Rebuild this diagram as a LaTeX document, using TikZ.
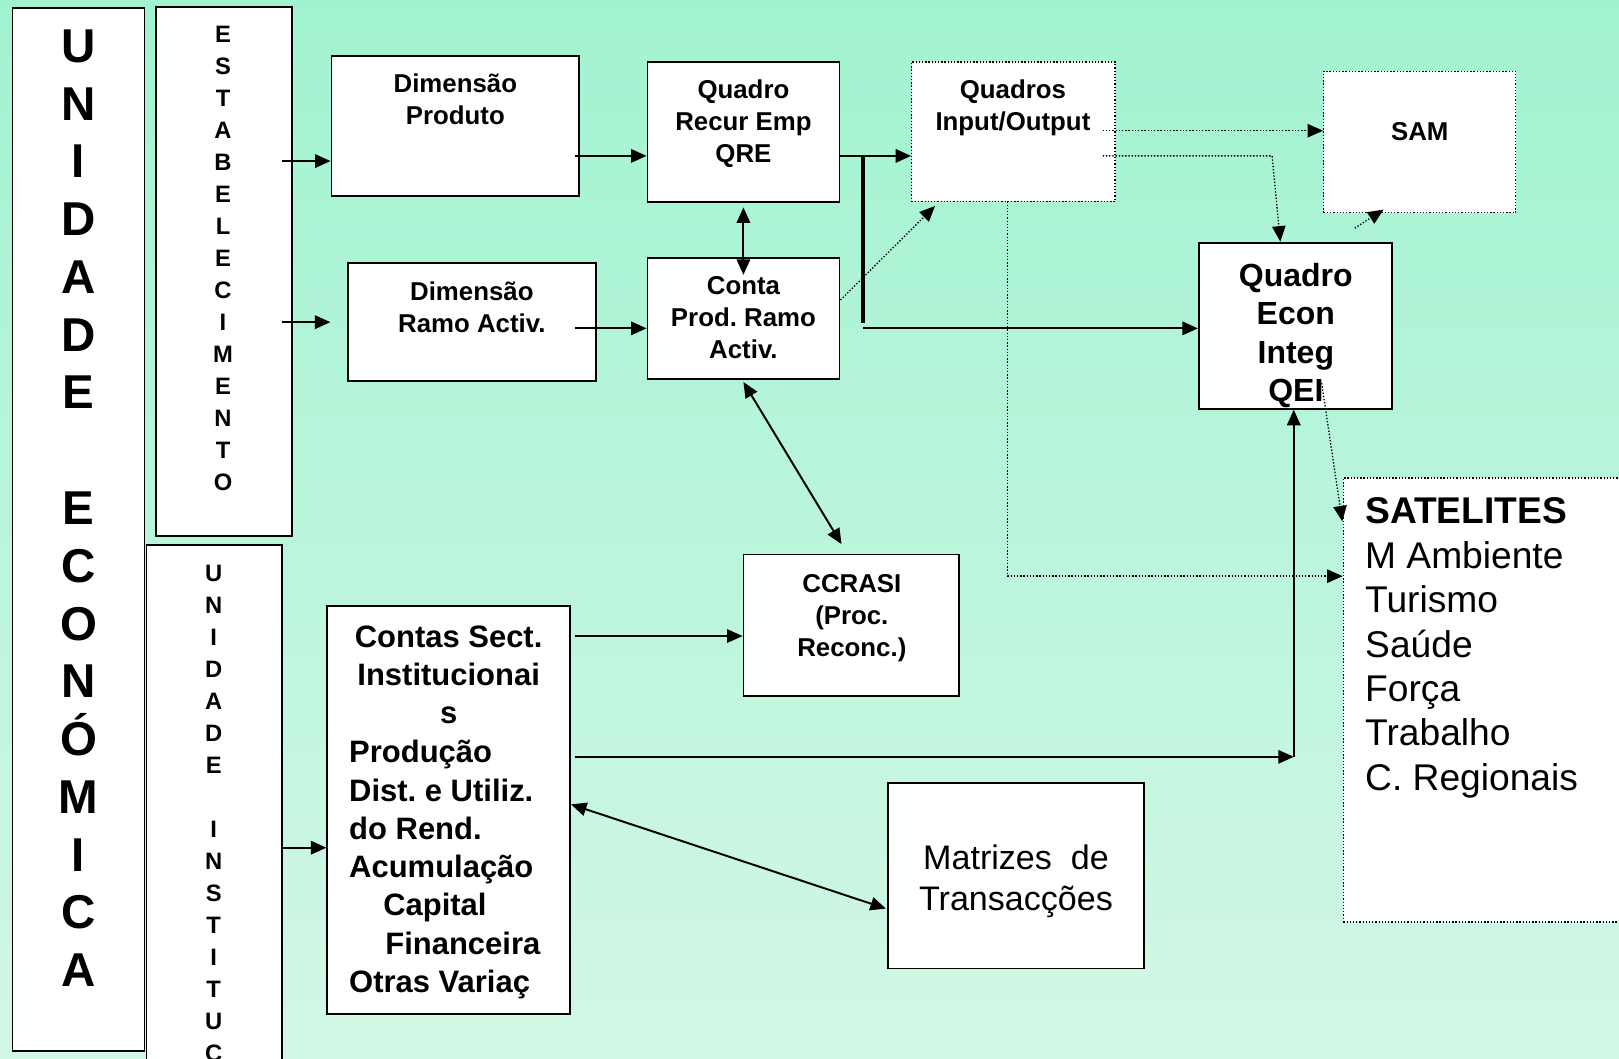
\documentclass[tikz,border=0pt]{standalone}
\usepackage{fontspec}
\setmainfont{Liberation Sans}
\usetikzlibrary{arrows.meta,calc}
\newcommand\fsz[2]{\fontsize{#1}{#2}\selectfont}
\definecolor{bgtop}{RGB}{161,243,208}
\definecolor{bgbot}{RGB}{211,247,230}
\frenchspacing
\begin{document}
\begin{tikzpicture}[x=1pt,y=-1pt,
 box/.style={draw, fill=white, line width=1.7pt, inner sep=0pt},
 dbox/.style={draw, fill=white, line width=1.3pt, dash pattern=on 1.3pt off 1.8pt, inner sep=0pt},
 txt/.style={inner sep=0pt, align=center, anchor=north, font=\bfseries\fsz{25}{31}},
 col/.style={inner sep=0pt, align=center, anchor=north},
 tip/.style={-{Triangle[length=15pt,width=13pt]}},
 arr/.style={line width=1.9pt, tip},
 darr/.style={line width=1.9pt, {Triangle[length=15pt,width=13pt]}-{Triangle[length=15pt,width=13pt]}},
 dot/.style={line width=1.3pt, dash pattern=on 1.3pt off 1.8pt},
 dotarr/.style={dot, tip},
]
\useasboundingbox (0,0) rectangle (1568,1025);
\clip (0,0) rectangle (1568,1025);
\fill[top color=bgtop,bottom color=bgbot] (0,0) rectangle (1568,1025);

% left columns
\node[box, minimum width=128pt, minimum height=1010pt] (ue) at (76,513) {};
\node[box, minimum width=132pt, minimum height=512pt] (est) at (217,263) {};
\node[box, minimum width=131pt, minimum height=512pt] (ui) at (207.5,784) {};
\node[col, font=\bfseries\fsz{46}{55.95}] (uet) at (76,28.5)
  {U\\N\\I\\D\\A\\D\\E\\[55.95pt]E\\C\\O\\N\\Ó\\M\\I\\C\\A};
\node[col, font=\bfseries\fsz{23}{31}] (estt) at (216,24.8)
  {E\\S\\T\\A\\B\\E\\L\\E\\C\\I\\M\\E\\N\\T\\O};
\node[col, font=\bfseries\fsz{23}{31}] (uit) at (207,546.8)
  {U\\N\\I\\D\\A\\D\\E\\[31pt]I\\N\\S\\T\\I\\T\\U\\C};

% boxes
\node[box, minimum width=240pt, minimum height=136pt] (dp) at (441,122) {};
\node[box, minimum width=240pt, minimum height=114pt] (dr) at (457,312) {};
\node[box, minimum width=186pt, minimum height=136pt] (qre) at (720,128) {};
\node[box, minimum width=186pt, minimum height=117pt] (cpr) at (720,308.5) {};
\node[dbox, minimum width=197pt, minimum height=135pt] (io) at (981.5,127.5) {};
\node[dbox, minimum width=186pt, minimum height=137pt] (sam) at (1375,137.5) {};
\node[box, minimum width=187pt, minimum height=161pt] (qei) at (1254.5,315.5) {};
\node[dbox, minimum width=279pt, minimum height=430pt] (sat) at (1440.5,678) {};
\node[box, minimum width=209pt, minimum height=137pt] (ccr) at (824.5,605.5) {};
\node[box, minimum width=235pt, minimum height=395pt] (cst) at (434.5,784.5) {};
\node[box, minimum width=248pt, minimum height=180pt] (mat) at (984,848) {};

% texts
\node[txt] (dpt) at (441,71) {Dimensão\\Produto};
\node[txt] (drt) at (457,273) {Dimensão\\Ramo Activ.};
\node[txt] (qret) at (720,77) {Quadro\\Recur Emp\\QRE};
\node[txt] (cprt) at (720,268) {Conta\\Prod. Ramo\\Activ.};
\node[txt] (iot) at (981,77) {Quadros\\Input/Output};
\node[txt] (samt) at (1375,118) {SAM};
\node[txt, font=\bfseries\fsz{31}{37}] (qeit) at (1255,255) {Quadro\\Econ\\Integ\\QEI};
\node[txt] (ccrt) at (825,556) {CCRASI\\(Proc.\\Reconc.)};
\node[txt, font=\fsz{33}{40}] (matt) at (984,818) {Matrizes~~de\\Transacções};
\node[txt, font=\bfseries\fsz{30}{37}] (csta) at (434.5,606) {Contas Sect.\\Institucionai\\s};
\node[txt, font=\bfseries\fsz{30}{37}, anchor=north west, align=left] (cstb) at (338,717)
  {Produção\\Dist. e Utiliz.\\do Rend.\\Acumulação\\\hspace*{33pt}Capital\\\hspace*{35pt}Financeira\\Otras Variaç};
\node[inner sep=0pt, anchor=north west, align=left, font=\fsz{36}{43}] (satt) at (1322,482)
  {\textbf{SATELITES}\\M Ambiente\\Turismo\\Saúde\\Força\\Trabalho\\C. Regionais};

% connector points
\coordinate (a1) at (273,156);
\coordinate (a2) at (273,312);
\coordinate (a2e) at (320,312);
\coordinate (a3) at (273,821);
\coordinate (b1) at (557,151);
\coordinate (b2) at (557,318);
\coordinate (j1) at (836,151);
\coordinate (j2) at (836,313);
\coordinate (j3) at (836,318);
\coordinate (d1) at (1068,126.6);
\coordinate (d2) at (1068,151);
\coordinate (d3) at (1232,151);
\coordinate (d4) at (1240,234);
\coordinate (d5) at (1312,221);
\coordinate (d6) at (1340,203);
\coordinate (d7) at (976,195);
\coordinate (d8) at (976,558);
\coordinate (d9) at (1280,371);
\coordinate (d10) at (1300,505);
\coordinate (d11) at (814,290.5);
\coordinate (d12) at (905.6,199.5);
\coordinate (e1) at (720,370);
\coordinate (e2) at (815,527);
\coordinate (f1) at (557,616);
\coordinate (f2) at (557,733);
\coordinate (f3) at (1253,733);
\coordinate (g1) at (553,779);
\coordinate (g2) at (858,880);

% solid connectors
\draw[arr] (a1) -- (dp.west |- a1);
\draw[arr] (a2) -- (a2e);
\draw[arr] (a3) -- (cst.west |- a3);
\draw[arr] (b1) -- (qre.west |- b1);
\draw[arr] (b2) -- (cpr.west |- b2);
\draw[darr] ($(qre.south)+(0,4)$) -- ($(cpr.north)+(0,17)$);
\draw[line width=2.4pt, tip] (qre.east |- j1) -- (io.west |- j1);
\draw[line width=3.9pt] (j1) -- (j2);
\draw[arr] (j3) -- (qei.west |- j3);
\draw[darr] (e1) -- (e2);
\draw[arr] (f1) -- (ccr.west |- f1);
\draw[arr] (f2) -- (f3);
\draw[arr] (f3) -- (qei.south -| f3);
\draw[darr] (g1) -- (g2);

% dotted connectors
\draw[dotarr] (d11) -- (d12);
\draw[dotarr] (d1) -- (sam.west |- d1);
\draw[dotarr] (d2) -- (d3) -- (d4);
\draw[dotarr] (d5) -- (d6);
\draw[dotarr] (d7) -- (d8) -- (sat.west |- d8);
\draw[dotarr] (d9) -- (d10);
\end{tikzpicture}
\end{document}
